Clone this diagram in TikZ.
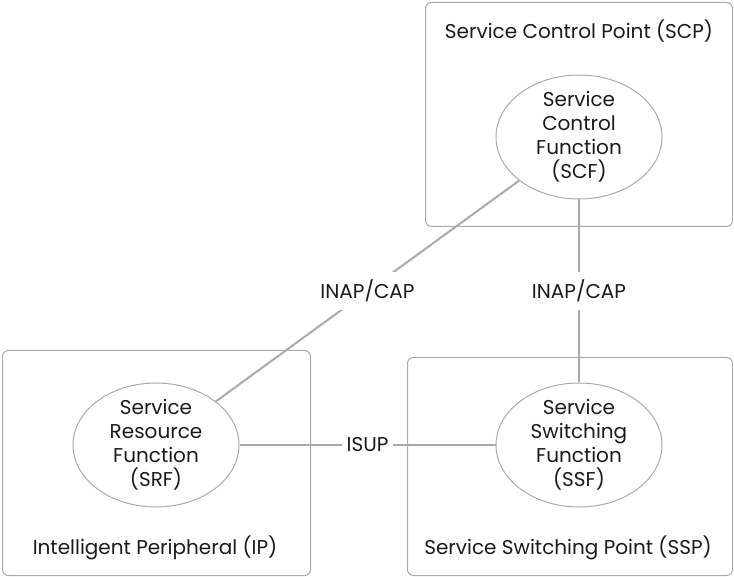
\documentclass[tikz,border=0pt]{standalone}
\usepackage{fontspec}
\setmainfont{Poppins}
\usetikzlibrary{shapes.geometric}
\definecolor{linegray}{HTML}{AAAAAA}
\definecolor{txt}{HTML}{1A1A1A}
\tikzset{
  box/.style={draw=linegray, line width=1pt, rounded corners=6pt},
  fn/.style={draw=linegray, line width=1pt, ellipse, minimum width=166pt, minimum height=124pt, inner sep=0pt},
  fntext/.style={align=center, text=txt, font=\fontsize{20pt}{24pt}\selectfont, inner sep=0pt},
  title/.style={text=txt, font=\fontsize{20pt}{24pt}\selectfont, inner sep=0pt},
  conn/.style={draw=linegray, line width=2pt},
  lab/.style={fill=white, text=txt, font=\fontsize{20pt}{24pt}\selectfont, inner xsep=5pt, inner ysep=8pt},
}
\begin{document}
\begin{tikzpicture}[x=1pt, y=-1pt]
\useasboundingbox (0,0) rectangle (734,577);
% containers
\draw[box] (425.5,2.5) rectangle (732.5,226.5);
\draw[box] (2.5,350.5) rectangle (310.5,575.5);
\draw[box] (407.5,357.5) rectangle (732.5,575.5);
% titles
\node[title] (scpt) at (579,31) {Service Control Point (SCP)};
\node[title] (ipt) at (155,548) {Intelligent Peripheral (IP)};
\node[title] (sspt) at (568,548) {Service Switching Point (SSP)};
% functions
\node[fn] (scf) at (579,137) {};
\node[fn] (srf) at (156,445) {};
\node[fn] (ssf) at (579,445) {};
\node[fntext] (scft) at (scf) {Service\\Control\\Function\\(SCF)};
\node[fntext] (srft) at (srf) {Service\\Resource\\Function\\(SRF)};
\node[fntext] (ssft) at (ssf) {Service\\Switching\\Function\\(SSF)};
% connectors
\draw[conn] (scf) -- node[lab] (l1) {INAP/CAP} (srf);
\draw[conn] (scf) -- node[lab] (l2) {INAP/CAP} (ssf);
\draw[conn] (srf) -- node[lab] (l3) {ISUP} (ssf);
\end{tikzpicture}
\end{document}
